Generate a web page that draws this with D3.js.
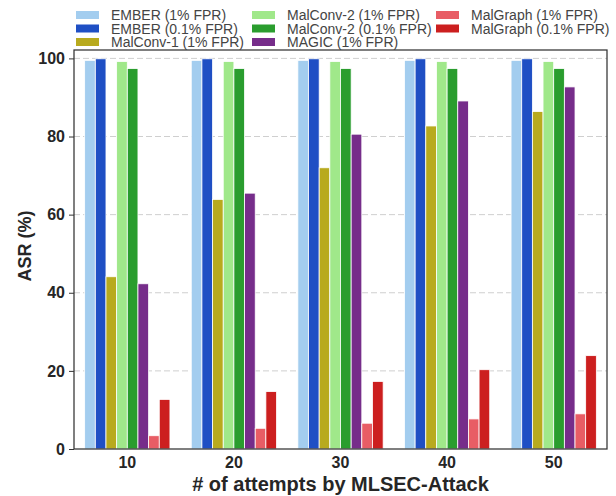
<!DOCTYPE html>
<html><head><meta charset="utf-8">
<script src="https://cdn.jsdelivr.net/npm/d3@7/dist/d3.min.js"></script>
<style>body{margin:0;background:#fff}svg{display:block}text{font-family:"Liberation Sans",Arial,sans-serif}</style>
</head><body><svg id="c" width="616" height="496"></svg>
<script>
const categories = ["10","20","30","40","50"];
const seriesNames = ["EMBER (1% FPR)","EMBER (0.1% FPR)","MalConv-1 (1% FPR)","MalConv-2 (1% FPR)","MalConv-2 (0.1% FPR)","MAGIC (1% FPR)","MalGraph (1% FPR)","MalGraph (0.1% FPR)"];
const colors = ["#a3cdef","#1f4fc4","#b8aa1e","#a0e88a","#2a9d2e","#762d8a","#e85d65","#cc1f1f"];
const emberLow = [99.5,99.5,99.5,99.5,99.5];
const emberHigh = [99.9,99.9,99.9,99.9,99.9];
const malconv1 = [44.1,63.9,72.0,82.7,86.4];
const malconv2Low = [99.2,99.2,99.2,99.2,99.2];
const malconv2High = [97.4,97.4,97.4,97.4,97.4];
const magic = [42.3,65.5,80.6,89.1,92.7];
const malgraphLow = [3.4,5.3,6.6,7.7,9.0];
const malgraphHigh = [12.7,14.7,17.3,20.3,23.9];
const seriesValues = [emberLow,emberHigh,malconv1,malconv2Low,malconv2High,magic,malgraphLow,malgraphHigh];
const yTicks = [0,20,40,60,80,100];

const svg = d3.select("#c");
const L=74,R=607,T=50,B=449;
const x = d3.scaleBand().domain(categories).range([L,R]).paddingInner(0.2).paddingOuter(0.1);
const xs = d3.scaleBand().domain(d3.range(seriesNames.length)).range([0,x.bandwidth()]);
const y = d3.scaleLinear().domain([0,102.15]).range([B,T]);

// grid
svg.append("g").selectAll("line").data(yTicks.filter(d=>d>0)).join("line")
  .attr("x1",L).attr("x2",R).attr("y1",d=>y(d)).attr("y2",d=>y(d))
  .attr("stroke","#cfcfcf").attr("stroke-width",1).attr("stroke-dasharray","6,3");

// bars
const g = svg.append("g");
seriesValues.forEach((vals,si)=>{
  g.selectAll(null).data(vals).join("rect")
    .attr("x",(d,i)=>x(categories[i])+xs(si))
    .attr("y",d=>y(d)).attr("width",xs.bandwidth()).attr("height",d=>B-y(d))
    .attr("fill",colors[si]).attr("stroke","#fff").attr("stroke-width",0.8);
});

// axes
const ya = svg.append("g").attr("transform",`translate(${L},0)`).call(d3.axisLeft(y).tickValues(yTicks).tickSize(5).tickPadding(4));
ya.select(".domain").remove();
ya.selectAll("line").attr("stroke","#333").attr("stroke-width",1);
ya.selectAll("text").attr("font-size",16).attr("font-weight","bold").attr("fill","#262626").attr("font-family","Liberation Sans, Arial, sans-serif");
const xa = svg.append("g").attr("transform",`translate(0,${B})`).call(d3.axisBottom(x).tickSize(0).tickPadding(8));
xa.select(".domain").remove();
xa.selectAll("text").attr("font-size",16).attr("font-weight","bold").attr("fill","#262626").attr("font-family","Liberation Sans, Arial, sans-serif");

svg.append("rect").attr("x",L).attr("y",T).attr("width",R-L).attr("height",B-T)
  .attr("fill","none").attr("stroke","#333").attr("stroke-width",1.25);

svg.append("text").attr("x",(L+R)/2).attr("y",491).attr("text-anchor","middle")
  .attr("font-size",20).attr("font-weight","bold").attr("fill","#262626").text("# of attempts by MLSEC-Attack");
svg.append("text").attr("transform","translate(31,246) rotate(-90)").attr("text-anchor","middle")
  .attr("font-size",18).attr("font-weight","bold").attr("fill","#262626").text("ASR (%)");

// legend
const colX=[76,252,436], rowY=[15,28.5,42];
const order=[[0,0],[0,1],[0,2],[1,0],[1,1],[1,2],[2,0],[2,1]];
const lg = svg.append("g");
seriesNames.forEach((n,i)=>{
  const [c,r]=order[i];
  lg.append("rect").attr("x",colX[c]).attr("y",rowY[r]-4).attr("width",23).attr("height",8).attr("fill",colors[i]);
  lg.append("text").attr("x",colX[c]+35).attr("y",rowY[r]+5).attr("font-size",14).attr("fill","#444").text(n);
});
</script></body></html>
